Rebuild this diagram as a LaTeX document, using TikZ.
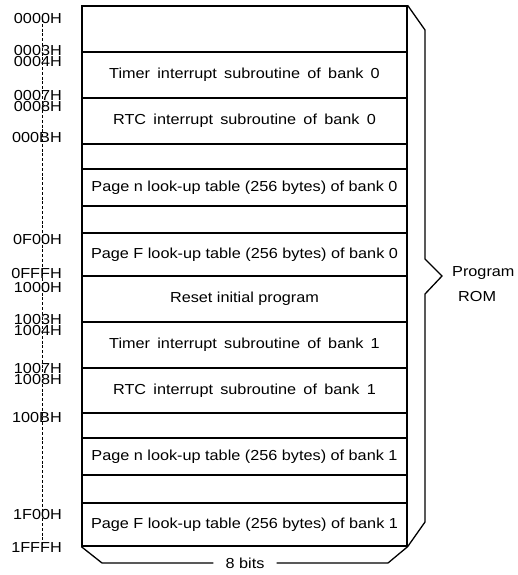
\documentclass[tikz,border=0pt]{standalone}
\usepackage{fontspec}
\setmainfont{Liberation Sans}[FakeStretch=1.12]
\begin{document}
\begin{tikzpicture}[x=1pt,y=-1pt,
  font=\fontsize{14.5}{17}\selectfont,
  rowbox/.style={draw,line width=1.3pt,minimum width=325pt,inner sep=0pt,
     text height=10pt,text depth=2.8pt},
  wide/.style={execute at begin node={\spaceskip=7.3pt\relax}},
  addr/.style={anchor=east,inner sep=0pt},
  guide/.style={line width=0.8pt,dash pattern=on 3pt off 1.8pt},
  brace/.style={line width=1.3pt},
  plain/.style={inner sep=0pt}]
\useasboundingbox (0,0) rectangle (518,575);
% dashed address guide
\coordinate (gtop) at (42,19);
\coordinate (gbot) at (42,548);
\draw[guide] (gtop) -- (gbot);
% memory rows
\node[rowbox,minimum height=46pt] (r0) at (244.5,29) {};
\node[rowbox,wide,minimum height=46pt] (r1) at (244.5,75) {Timer interrupt subroutine of bank 0};
\node[rowbox,wide,minimum height=46pt] (r2) at (244.5,121) {RTC interrupt subroutine of bank 0};
\node[rowbox,minimum height=25pt] (r3) at (244.5,156.5) {};
\node[rowbox,minimum height=37pt] (r4) at (244.5,187.5) {Page n look-up table (256 bytes) of bank 0};
\node[rowbox,minimum height=27pt] (r5) at (244.5,219.5) {};
\node[rowbox,minimum height=43pt] (r6) at (244.5,254.5) {Page F look-up table (256 bytes) of bank 0};
\node[rowbox,minimum height=46pt] (r7) at (244.5,299) {Reset initial program};
\node[rowbox,wide,minimum height=46pt] (r8) at (244.5,345) {Timer interrupt subroutine of bank 1};
\node[rowbox,wide,minimum height=45pt] (r9) at (244.5,390.5) {RTC interrupt subroutine of bank 1};
\node[rowbox,minimum height=25pt] (r10) at (244.5,425.5) {};
\node[rowbox,minimum height=37pt] (r11) at (244.5,456.5) {Page n look-up table (256 bytes) of bank 1};
\node[rowbox,minimum height=28pt] (r12) at (244.5,489) {};
\node[rowbox,minimum height=43pt] (r13) at (244.5,524.5) {Page F look-up table (256 bytes) of bank 1};
% addresses
\node[addr] (a0000) at (62,19) {0000H};
\node[addr] (a0003) at (62,50.5) {0003H};
\node[addr] (a0004) at (62,62) {0004H};
\node[addr] (a0007) at (62,95.5) {0007H};
\node[addr] (a0008) at (62,107) {0008H};
\node[addr] (a000B) at (62,138) {000BH};
\node[addr] (a0F00) at (62,240) {0F00H};
\node[addr] (a0FFF) at (62,274) {0FFFH};
\node[addr] (a1000) at (62,288) {1000H};
\node[addr] (a1003) at (62,319.5) {1003H};
\node[addr] (a1004) at (62,331) {1004H};
\node[addr] (a1007) at (62,368.5) {1007H};
\node[addr] (a1008) at (62,380) {1008H};
\node[addr] (a100B) at (62,418) {100BH};
\node[addr] (a1F00) at (62,515) {1F00H};
\node[addr] (a1FFF) at (62,548) {1FFFH};
% right brace
\coordinate (bt) at (425,30);
\coordinate (bm1) at (425,259);
\coordinate (tip) at (442,276);
\coordinate (bm2) at (425,294);
\coordinate (bb) at (425,522);
\draw[brace] (r0.north east) -- (bt) -- (bm1) -- (tip) -- (bm2) -- (bb) -- (r13.south east);
\node[plain,anchor=west] (prog) at (452,273) {Program};
\node[plain,anchor=west] (rom) at (458,297) {ROM};
% bottom width marker
\node[plain,inner xsep=12pt] (bits) at (245,563) {8 bits};
\coordinate (cl) at (102,563);
\coordinate (cr) at (388,563);
\draw[brace] (r13.south west) -- (cl) -- (bits.west);
\draw[brace] (bits.east) -- (cr) -- (r13.south east);
\end{tikzpicture}
\end{document}
